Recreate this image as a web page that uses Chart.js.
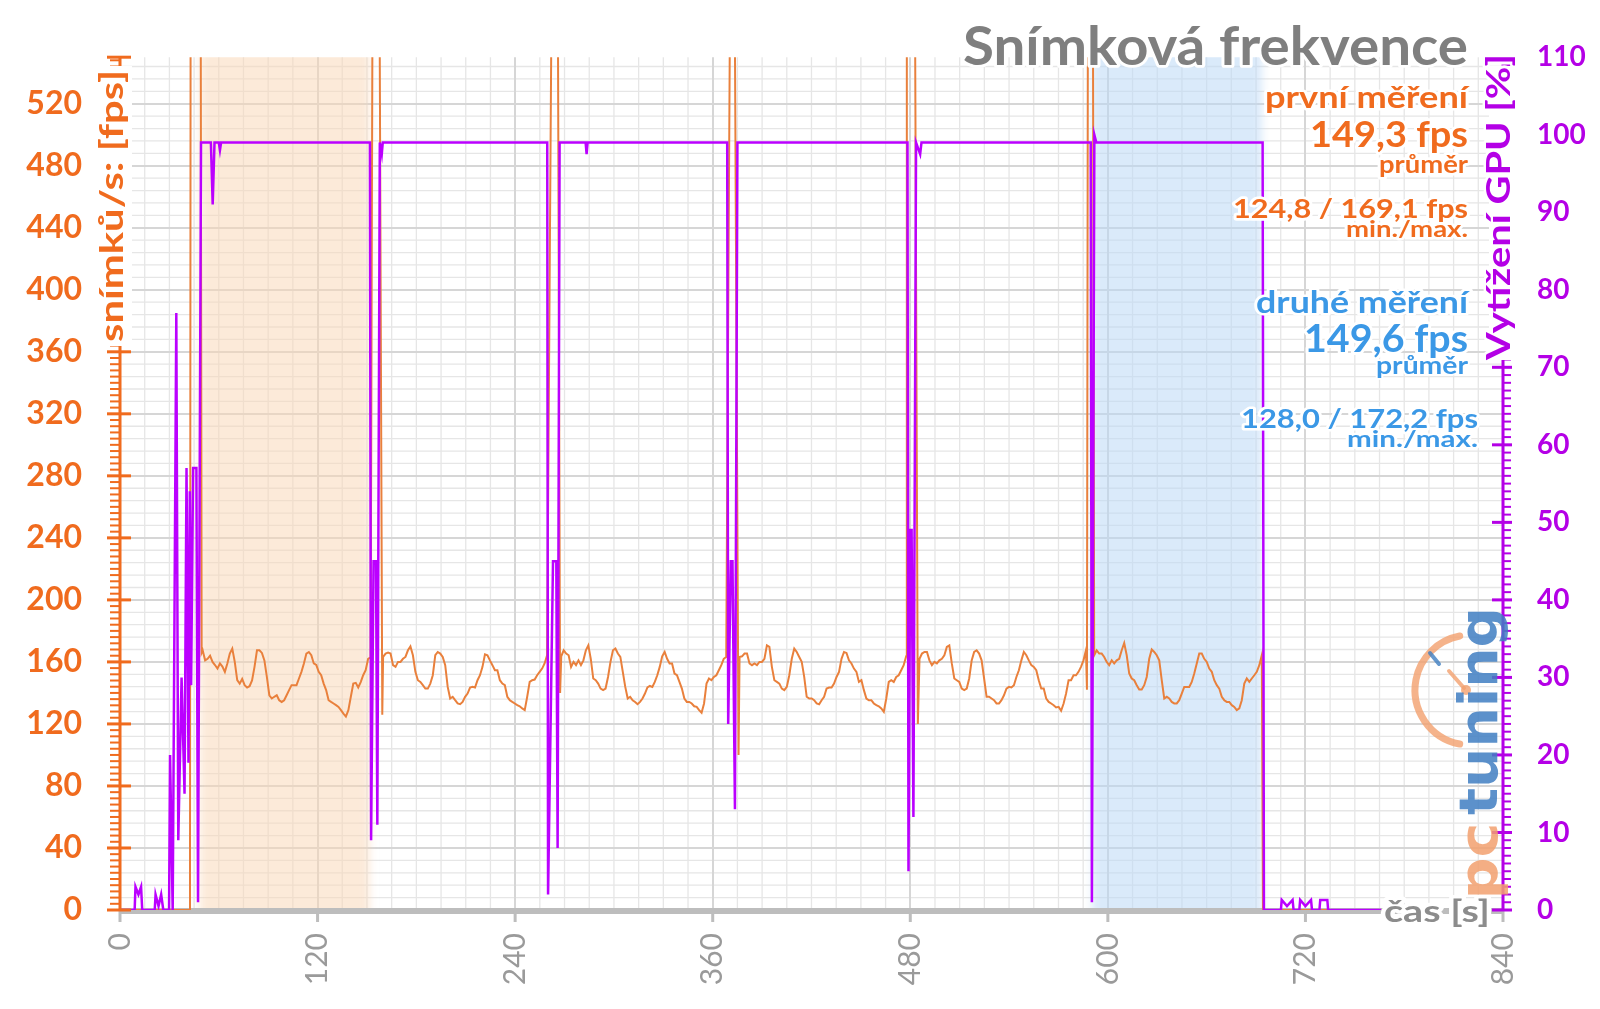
<!DOCTYPE html>
<html><head><meta charset="utf-8">
<script src="https://cdn.jsdelivr.net/npm/chart.js@4.4.0/dist/chart.umd.min.js"></script>
<style>html,body{margin:0;padding:0;background:#fff;overflow:hidden}canvas{display:block}</style>
</head><body>
<canvas id="c" width="1600" height="1009" style="width:1600px;height:1009px"></canvas>
<script>
// ---------- DATA ----------
const timeTicks = [0, 120, 240, 360, 480, 600, 720, 840];
const fpsTicks = [0, 40, 80, 120, 160, 200, 240, 280, 320, 360, 400, 440, 480, 520];
const gpuTicks = [0, 10, 20, 30, 40, 50, 60, 70, 80, 90, 100, 110];

// six benchmark runs (fps), start/end time of each run in seconds
const runStart = [50.2, 159.8, 268.0, 376.3, 485.6, 591.7];
const runEnd   = [152.2, 259.4, 368.2, 477.5, 586.7, 693.5];
const run1Fps = [167.5,161,162,164,160,158,155.7,159,157,153.6,159,165.4,168.6,160,148.2,146,149,145,143.5,144.3,148,156.8,167.5,167.5,165.8,161,150.3,138.5,136.4,137.5,138.5,135.3,134.2,135.3,138.5,141.8,145,145,145,149.3,153.6,159,165.4,166.4,164.3,159,158,153.6,151.4,146,141.8,135.3,134.2,133.2,132.1,131,128.9,126.7,124.8,128.9,137.5,146,146.5,143.5,147,151.4,154.6,162,163];
const run2Fps = [163.2,165.4,166,165.4,157.9,156.8,160,160,162,163.2,167.5,170,164.3,153.6,148.2,147.1,145,142.8,142.8,146,151.4,164.3,166.4,165.4,163.2,157.9,143.9,136.4,137.5,135.3,133.2,132.7,134.2,137.5,139.6,143.5,143.9,143.5,148.2,151.4,156.8,164.9,164.3,161,157.9,154.6,154.6,148.2,146,145,137.5,135.3,134.2,133.2,132.1,131.4,130,128.9,137.5,147.1,148.2,148.6,151.4,153.6,155.7,159,164.3];
const run3Fps = [163.6,167.5,165.4,164.3,156.8,160,157.9,161,157.9,161,167.5,170.7,162,149.3,148.2,146,142.8,141.8,142.8,150.3,160,167.5,168.6,165.4,163.2,153.6,143.9,136.4,137.5,135.3,134.2,132.7,134.2,136.4,139.6,143.5,144.5,143.9,147.1,151.4,156.8,163.6,166.4,162,159,159,152.5,151.4,147.1,142.8,136.4,134.2,134.2,133.2,131.4,131,128.9,127.2,133.2,146,149.3,148.2,150.3,151.4,154.6,157.9,162,163.2];
const run4Fps = [163.2,163.6,165.4,165.4,159,157.9,159,157.9,160,160,162,170.7,169.7,156.8,148.2,147.1,146,142.8,141.8,143.9,151.4,162,168.6,166.4,163.2,160,150.3,137.5,136.4,136.4,135.3,133.2,132.7,135.3,137.5,142.8,143.5,143.5,146,150.3,153.6,162,166.4,165.8,161,159,155.7,153.6,147.1,148.2,141.8,136.4,135.3,135.3,133.2,132.1,131.4,130,127.8,136.4,147.1,148.2,147.1,150.3,151.4,154.6,157.9,163.6];
const run5Fps = [162,165.4,166.4,166.4,161,157.9,160,159,161,162,164.3,169.7,170.7,159,149.3,148.2,147.1,142.8,141.8,142.8,149.3,161,166.4,167.5,165.4,161,149.3,137.5,137.5,136.4,135.3,133.2,133.2,135.3,138.5,142.8,143.9,143.5,145,150.3,154.6,161,166.4,164.3,161,157.9,156.8,154.6,148.2,142.8,142.8,136.4,134.2,133.2,132.1,130.6,131,128.5,133.2,139.6,148.2,148.2,151.4,151.4,153.6,156.8,161,167.5];
const run6Fps = [164.3,167.5,165.4,165.4,163.2,160,157.9,161,159,161,162,167.5,172.2,164.3,152.5,149.3,148.2,145,142.2,142.2,145,150.3,162,168,166.4,164.3,161,148.2,136.4,137.5,136.4,134.2,133.2,133.2,135.3,139.6,143.9,143.9,143.9,147.1,152.5,159,165.4,165.4,162,160,155.7,153.6,148.2,145,142.8,137.5,135.3,134.2,134.2,132.1,131,128.9,130,135.3,146,149.3,147.1,149.3,151.4,153.6,157.9,164.3];
const runFps = [run1Fps, run2Fps, run3Fps, run4Fps, run5Fps, run6Fps];

// fps outside the runs (idle, loading spikes above the chart top, end)
const fpsExtraT = [0, 42.5, 42.9, 49.0, 49.6, 153.4, 157.6, 159.3, 262.2, 265.9, 267.3, 370.6, 373.3, 375.7, 477.9, 482.8, 484.6, 587.3, 587.9, 590.9, 694.2, 766];
const fpsExtraV = [0, 0, 600, 600, 166, 600, 600, 126, 600, 600, 140, 600, 600, 100, 600, 600, 120, 142, 600, 600, 0, 0];

// GPU load [%]
const gpuT = [0,8.9,9.4,11.2,12.8,13.5,21.1,21.6,23.4,25.0,26.3,29.8,30.4,32.0,34.2,35.4,37.4,39.2,40.4,41.6,42.4,43.2,44.4,46.4,47.4,49.2,55.2,56.3,57.4,60.0,60.7,61.4,
  151.8,152.5,154.0,155.5,156.3,157.8,159.0,159.6,
  259.5,260.0,263.0,265.0,265.8,267.0,282.8,283.4,284.0,
  368.8,369.4,371.0,372.0,373.5,375.0,
  478.3,478.9,480.0,480.8,481.9,483.5,486.0,486.8,
  589.6,590.3,591.8,593.0,
  694.0,694.8,705.1,705.6,708.8,712.2,712.8,716.3,716.8,720.0,723.4,724.0,728.5,729.0,733.3,733.8,766];
const gpuV = [0,0,3,2,3,0,0,2,0.5,2,0,0,20,0,77,9,30,15,57,19,54,29,57,57,1,99,99,91,99,99,98,99,
  99,9,45,45,11,99,97.5,99,
  99,2,45,45,8,99,99,97.5,99,
  99,24,45,45,13,99,
  99,5,49,49,12,99,97.5,99,
  99,1,100,99,
  99,0,0,1.3,0.5,1.3,0,0,1.3,0.5,1.3,0,0,1.3,1.3,0,0];

// highlighted measurement windows [s]
const bandStart = [48.5, 590.5];
const bandEnd = [151.5, 693.5];

// ---------- BUILD ----------
const fpsPoints = [];
fpsExtraT.forEach((t, i) => fpsPoints.push({x: t, y: fpsExtraV[i]}));
runFps.forEach((vals, r) => {
  const n = vals.length;
  vals.forEach((v, i) => fpsPoints.push({x: runStart[r] + (runEnd[r] - runStart[r]) * i / (n - 1), y: v}));
});
fpsPoints.sort((a, b) => a.x - b.x);
const gpuPoints = gpuT.map((t, i) => ({x: t, y: gpuV[i]}));

const ORANGE = '#F06B1E', LINE_OR = '#E9803C', PURPLE = '#B400E6', LINE_PU = '#BB00FF', BLUE = '#3B98E6', GRAY = '#7F7F7F';

function txt(ctx, s, x, y, o) {
  ctx.save();
  ctx.font = `${o.weight || 'bold'} ${o.size}px ${o.family || 'Lato'}`;
  const w = ctx.measureText(s).width;
  const sx = o.width ? o.width / w : 1;
  ctx.translate(x, y);
  if (o.rot) ctx.rotate(o.rot);
  ctx.scale(sx, 1);
  ctx.textAlign = o.align || 'left';
  ctx.textBaseline = 'alphabetic';
  if (o.alpha) ctx.globalAlpha = o.alpha;
  if (o.halo) { ctx.lineJoin = 'round'; ctx.lineWidth = o.halo / sx; ctx.strokeStyle = '#fff'; ctx.strokeText(s, 0, 0); }
  ctx.fillStyle = o.color; ctx.fillText(s, 0, 0);
  ctx.restore();
}
function seg(ctx, x0, y0, x1, y1) { ctx.beginPath(); ctx.moveTo(x0, y0); ctx.lineTo(x1, y1); ctx.stroke(); }

const decor = {
  id: 'decor',
  beforeDraw(chart) {
    const {ctx, chartArea: a} = chart;
    const x = chart.scales.x, y = chart.scales.y;
    ctx.save();
    ctx.fillStyle = '#fff'; ctx.fillRect(0, 0, chart.width, chart.height);
    ctx.strokeStyle = '#E6E6E6'; ctx.lineWidth = 1.3;
    for (let t = 15; t < 840; t += 15) {
      if (t % 120 === 0) continue;
      const px = x.getPixelForValue(t);
      seg(ctx, px, a.top, px, a.bottom);
    }
    for (let f = 8; f <= 544; f += 8) {
      if (f % 40 === 0) continue;
      const py = y.getPixelForValue(f);
      seg(ctx, a.left, py, a.right, py);
    }
    ctx.restore();
  },
  beforeDatasetsDraw(chart) {
    const {ctx, chartArea: a} = chart;
    const x = chart.scales.x, y = chart.scales.y;
    ctx.save();
    ctx.beginPath(); ctx.rect(a.left, a.top, a.right - a.left, a.bottom - a.top); ctx.clip();
    const cols = ['rgba(250,214,180,0.5)', 'rgba(188,216,246,0.55)'];
    bandStart.forEach((t0, i) => {
      const x0 = x.getPixelForValue(t0), x1 = x.getPixelForValue(bandEnd[i]);
      ctx.filter = 'blur(4px)';
      ctx.fillStyle = cols[i];
      ctx.fillRect(x0, a.top - 12, x1 - x0, a.bottom - a.top + 24);
      ctx.filter = 'none';
    });
    ctx.restore();
    // x axis line + ticks
    ctx.save();
    const y0 = y.getPixelForValue(0) + 1;
    ctx.strokeStyle = '#BDBDBD'; ctx.lineWidth = 6;
    seg(ctx, a.left, y0, a.right, y0);
    ctx.lineWidth = 3;
    timeTicks.forEach(t => { const px = x.getPixelForValue(t); seg(ctx, px, y0, px, y0 + 11); });
    ctx.restore();
  },
  afterDraw(chart) {
    const {ctx, chartArea: a} = chart;
    const x = chart.scales.x, y = chart.scales.y, y1 = chart.scales.y1;
    ctx.save();
    // left axis
    ctx.strokeStyle = ORANGE;
    ctx.lineWidth = 2;
    for (let f = 4; f < 550; f += 4) { if (f % 40 === 0) continue; const py = y.getPixelForValue(f); seg(ctx, a.left - 10, py, a.left, py); }
    ctx.lineWidth = 3;
    fpsTicks.concat([550]).forEach(f => { const py = y.getPixelForValue(f); seg(ctx, a.left - 13, py, a.left + 11, py); });
    seg(ctx, a.left, a.top - 1, a.left, a.bottom + 1);
    // right axis
    ctx.strokeStyle = PURPLE;
    ctx.lineWidth = 2;
    for (let g = 1; g < 110; g++) { if (g % 10 === 0) continue; const py = y1.getPixelForValue(g); seg(ctx, a.right, py, a.right + 8, py); }
    ctx.lineWidth = 3;
    gpuTicks.forEach(g => { const py = y1.getPixelForValue(g); seg(ctx, a.right - 11, py, a.right + 9, py); });
    seg(ctx, a.right, a.top - 1, a.right, a.bottom + 1);
    // white masks behind the rotated axis titles
    ctx.fillStyle = '#fff';
    ctx.fillRect(a.left - 22, 66, 34, 280);
    ctx.fillRect(a.right - 14, 66, 30, 294);
    ctx.restore();

    // axis titles
    txt(ctx, 'snímků/s: [fps]', 123, 206, {size: 32, width: 272, color: ORANGE, align: 'center', rot: -Math.PI / 2, halo: 6});
    txt(ctx, 'Vytížení GPU [%]', 1510, 207, {size: 32, width: 306, color: PURPLE, align: 'center', rot: -Math.PI / 2, halo: 6});
    txt(ctx, 'čas [s]', 1490, 922, {size: 31, width: 106, color: '#8C8C8C', align: 'right', halo: 9});

    // chart title
    txt(ctx, 'Snímková frekvence', 1468, 65, {size: 54, width: 505, color: GRAY, align: 'right', halo: 6});

    // statistics
    txt(ctx, 'první měření', 1468, 108, {size: 31, width: 203, color: ORANGE, align: 'right', halo: 6});
    txt(ctx, '149,3 fps', 1468, 147, {size: 37, width: 158, color: ORANGE, align: 'right', halo: 6});
    txt(ctx, 'průměr', 1468, 173, {size: 25, width: 89, color: ORANGE, align: 'right', halo: 6});
    txt(ctx, '124,8 / 169,1 fps', 1468, 218, {size: 27, width: 235, color: ORANGE, align: 'right', halo: 6});
    txt(ctx, 'min./max.', 1468, 237, {size: 22, width: 122, color: ORANGE, align: 'right', halo: 6});
    txt(ctx, 'druhé měření', 1468, 313, {size: 31, width: 212, color: BLUE, align: 'right', halo: 6});
    txt(ctx, '149,6 fps', 1468, 352, {size: 38, width: 164, color: BLUE, align: 'right', halo: 6});
    txt(ctx, 'průměr', 1468, 374, {size: 25, width: 92, color: BLUE, align: 'right', halo: 4});
    txt(ctx, '128,0 / 172,2 fps', 1478, 428, {size: 27, width: 237, color: BLUE, align: 'right', halo: 6});
    txt(ctx, 'min./max.', 1478, 447, {size: 22, width: 131, color: BLUE, align: 'right', halo: 6});

    // watermark logo
    ctx.save();
    ctx.globalAlpha = 0.8;
    ctx.strokeStyle = '#F2A06E'; ctx.lineWidth = 7; ctx.lineCap = 'round';
    ctx.beginPath(); ctx.arc(1470, 690, 55, Math.PI * 0.56, Math.PI * 1.44); ctx.stroke();
    ctx.lineWidth = 4;
    seg(ctx, 1449, 671, 1464, 688);
    ctx.fillStyle = '#F2A06E'; ctx.beginPath(); ctx.arc(1466, 690, 5, 0, Math.PI * 2); ctx.fill();
    ctx.strokeStyle = '#3F7EC2'; seg(ctx, 1430, 653, 1439, 664);
    ctx.restore();
    txt(ctx, 'tuning', 1497, 711, {size: 54, width: 208, color: '#3F7EC2', align: 'center', rot: -Math.PI / 2, family: 'DejaVu Sans', alpha: 0.85});
    txt(ctx, 'pc', 1497, 861, {size: 54, width: 77, color: '#F2A06E', align: 'center', rot: -Math.PI / 2, family: 'DejaVu Sans', alpha: 0.85});
  }
};

function build() {
  new Chart(document.getElementById('c'), {
    type: 'line',
    data: {
      datasets: [
        {label: 'GPU', data: gpuPoints, yAxisID: 'y1', borderColor: LINE_PU, borderWidth: 2.5, pointRadius: 0, tension: 0, order: 0},
        {label: 'fps', data: fpsPoints, yAxisID: 'y', borderColor: LINE_OR, borderWidth: 2, pointRadius: 0, tension: 0, order: 1}
      ]
    },
    options: {
      responsive: false, animation: false, devicePixelRatio: 1,
      layout: {padding: {top: 56, left: 0, right: 0, bottom: 0}},
      plugins: {legend: {display: false}, tooltip: {enabled: false}},
      scales: {
        x: {
          type: 'linear', min: 0, max: 840, position: 'bottom',
          afterBuildTicks: s => { s.ticks = timeTicks.map(v => ({value: v})); },
          afterFit: s => { s.height = 99; },
          ticks: {color: '#9A9A9A', font: {family: 'Lato', size: 30}, minRotation: 90, maxRotation: 90, padding: 23, autoSkip: false},
          grid: {color: '#D6D6D6', lineWidth: 2, drawTicks: false},
          border: {display: false}
        },
        y: {
          type: 'linear', min: 0, max: 550, position: 'left',
          afterBuildTicks: s => { s.ticks = fpsTicks.map(v => ({value: v})); },
          afterFit: s => { s.width = 120; },
          ticks: {color: ORANGE, font: {family: 'Lato', size: 32, weight: 'bold'}, padding: 38, autoSkip: false},
          grid: {color: '#D6D6D6', lineWidth: 2, drawTicks: false},
          border: {display: false}
        },
        y1: {
          type: 'linear', min: 0, max: 110, position: 'right',
          afterBuildTicks: s => { s.ticks = gpuTicks.map(v => ({value: v})); },
          afterFit: s => { s.width = 97; },
          ticks: {color: PURPLE, font: {family: 'Lato', size: 28, weight: 'bold'}, padding: 34, autoSkip: false},
          grid: {display: false, drawTicks: false},
          border: {display: false}
        }
      }
    },
    plugins: [decor]
  });
}
Promise.all([
  document.fonts.load('bold 32px Lato'), document.fonts.load('30px Lato'), document.fonts.load('bold 58px "DejaVu Sans"')
]).then(build, build);
</script></body></html>
